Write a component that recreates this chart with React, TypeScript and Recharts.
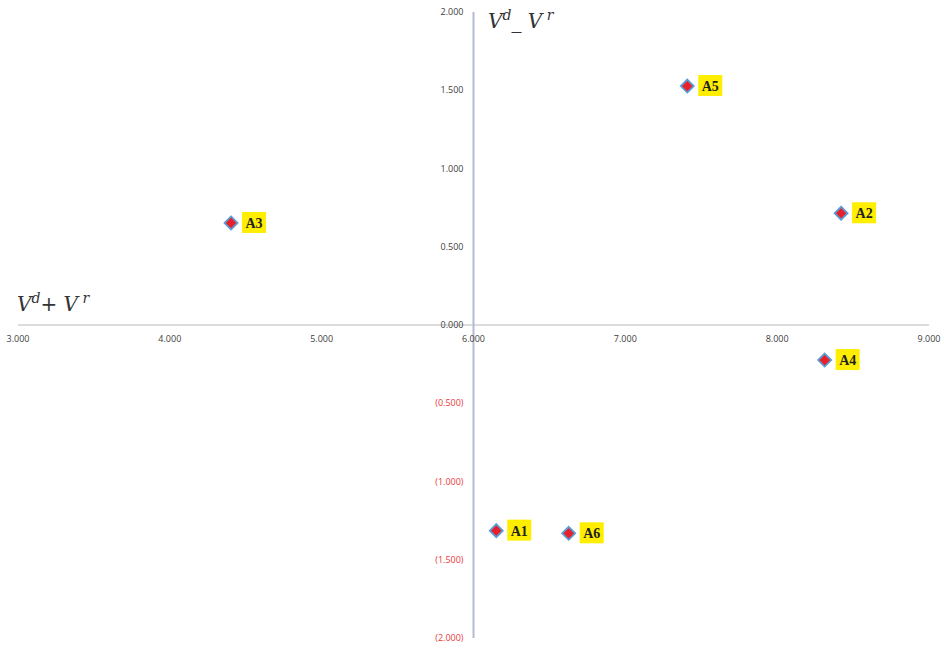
import React from "react";
import {
  ScatterChart,
  Scatter,
  XAxis,
  YAxis,
  ReferenceLine,
  LabelList,
} from "recharts";

const names = ["A1", "A2", "A3", "A4", "A5", "A6"];
const sumValues = [6.15, 8.421, 4.403, 8.313, 7.408, 6.627];
const diffValues = [-1.314, 0.714, 0.652, -0.224, 1.527, -1.331];
const xTicks = [3, 4, 5, 6, 7, 8, 9];
const yTicks = [-2, -1.5, -1, -0.5, 0, 0.5, 1, 1.5, 2];

const W = 944;
const H = 648;
const M = { top: 12, right: 15, bottom: 9, left: 17 };
const plotLeft = 18;
const plotTop = 12;
const plotW = W - plotLeft - M.right;
const plotH = H - plotTop - 10;

const points = names.map((name, i) => ({
  name,
  x: sumValues[i],
  y: diffValues[i],
}));

const tickFont = "Open Sans, Noto Sans, sans-serif";

function fmt(v: number) {
  const s = Math.abs(v).toFixed(3);
  return v < 0 ? `(${s})` : s;
}

// x ticks drawn on the y=0 line (middle of the plot)
function XTick(props: any) {
  const { x, payload } = props;
  const yy = plotTop + plotH / 2 + 17;
  return (
    <text x={x} y={yy} textAnchor="middle" fontSize={9} fill="#404040" fontFamily={tickFont}>
      {fmt(payload.value)}
    </text>
  );
}

// y ticks drawn next to the x=6 line (middle of the plot)
function YTick(props: any) {
  const { y, payload } = props;
  const xx = plotLeft + plotW / 2 - 10;
  const v = payload.value;
  return (
    <text
      x={xx}
      y={y + 3}
      textAnchor="end"
      fontSize={9}
      fill={v < 0 ? "#e8393a" : "#404040"}
      fontFamily={tickFont}
    >
      {fmt(v)}
    </text>
  );
}

function Diamond(props: any) {
  const { cx, cy } = props;
  const r = 6.5;
  return (
    <polygon
      points={`${cx},${cy - r} ${cx + r},${cy} ${cx},${cy + r} ${cx - r},${cy}`}
      fill="#e8202a"
      stroke="#5b9bd5"
      strokeWidth={1.8}
    />
  );
}

function TagLabel(props: any) {
  const { x, y, width, height, value } = props;
  const cx = x + width / 2;
  const cy = y + height / 2;
  return (
    <g>
      <rect x={cx + 11} y={cy - 11} width={24} height={21} fill="#ffee00" />
      <text
        x={cx + 23}
        y={cy + 5}
        textAnchor="middle"
        fontSize={14}
        fontWeight="bold"
        fill="#222"
        fontFamily="Liberation Serif, DejaVu Serif, serif"
      >
        {value}
      </text>
    </g>
  );
}

const titleStyle: React.CSSProperties = {
  position: "absolute",
  fontFamily: "DejaVu Serif, Liberation Serif, serif",
  fontStyle: "italic",
  fontSize: 20,
  color: "#333",
  whiteSpace: "nowrap",
  lineHeight: 1,
};
const supStyle: React.CSSProperties = { fontSize: 14, verticalAlign: "8px" };

export default function App() {
  return (
    <div style={{ position: "absolute", left: 0, top: 0, width: W, height: H, background: "#fff" }}>
      <ScatterChart width={W} height={H} margin={M}>
        <XAxis
          type="number"
          dataKey="x"
          domain={[3, 9]}
          ticks={xTicks}
          axisLine={false}
          tickLine={false}
          height={1}
          tick={(p: any) => <XTick {...p} />}
          interval={0}
        />
        <YAxis
          type="number"
          dataKey="y"
          domain={[-2, 2]}
          ticks={yTicks}
          axisLine={false}
          tickLine={false}
          width={1}
          tick={(p: any) => <YTick {...p} />}
          interval={0}
        />
        <ReferenceLine y={0} stroke="#d0d0d0" strokeWidth={1.5} />
        <ReferenceLine x={6} stroke="#b4bcd4" strokeWidth={2} />
        <Scatter data={points} shape={<Diamond />} isAnimationActive={false}>
          <LabelList dataKey="name" content={<TagLabel />} />
        </Scatter>
      </ScatterChart>
      <div style={{ ...titleStyle, left: 488, top: 8 }}>
        V<span style={supStyle}>d</span>
        <span style={{ fontStyle: "normal" }}>_</span> V<span style={supStyle}> r</span>
      </div>
      <div style={{ ...titleStyle, left: 17, top: 291 }}>
        V<span style={supStyle}>d</span>
        <span style={{ fontStyle: "normal" }}>+</span> V<span style={supStyle}> r</span>
      </div>
    </div>
  );
}
